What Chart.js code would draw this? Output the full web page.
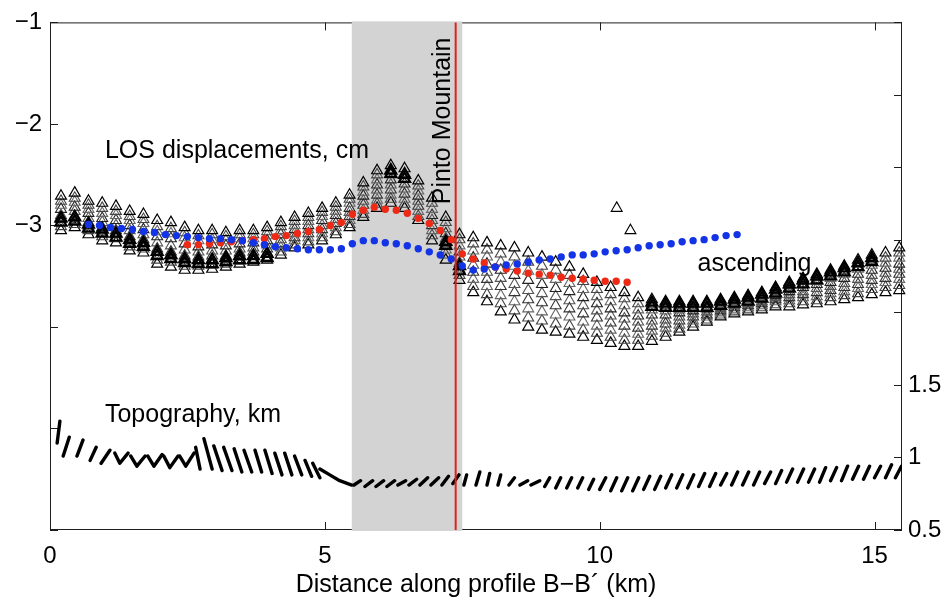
<!DOCTYPE html>
<html><head><meta charset="utf-8">
<script src="https://cdn.jsdelivr.net/npm/chart.js@4.4.1/dist/chart.umd.min.js"></script>
<style>html,body{margin:0;padding:0;background:#fff}canvas{display:block}</style>
</head><body>
<canvas id="c" width="950" height="605"></canvas>
<script>
const FONT = '"Liberation Sans", Arial, Helvetica, sans-serif';

// ---- ascending LOS profile samples (km, cm) ----
const distAsc = [0.2,0.45,0.7,0.95,1.2,1.45,1.7,1.95,2.2,2.45,2.7,2.95,3.2,3.45,3.7,3.95,4.2,4.45,4.7,4.95,5.2,5.45,5.7,5.95,6.2,6.45,6.7,6.95,7.2,7.45,7.7,7.95,8.2,8.45,8.7,8.95,9.2,9.45,9.7,9.95,10.2,10.45,10.7,10.95,11.2,11.45,11.7,11.95,12.2,12.45,12.7,12.95,13.2,13.45,13.7,13.95,14.2,14.45,14.7,14.95,15.2,15.45];
const ascTop = [-2.71,-2.68,-2.76,-2.78,-2.81,-2.86,-2.89,-2.95,-2.97,-3.02,
  -3.05,-3.05,-3.07,-3.05,-3.05,-3.02,-2.97,-2.92,-2.88,-2.83,
  -2.78,-2.70,-2.58,-2.46,-2.41,-2.44,-2.56,-2.73,-2.92,-3.09,
  -3.12,-3.17,-3.20,-3.22,-3.27,-3.31,-3.36,-3.41,-3.48,-3.56,
  -3.61,-3.66,-3.71,-3.73,-3.75,-3.75,-3.75,-3.75,-3.73,-3.71,
  -3.69,-3.66,-3.61,-3.56,-3.52,-3.48,-3.44,-3.40,-3.34,-3.29,
  -3.27,-3.22];
const ascQ1 = [-2.76,-2.73,-2.80,-2.83,-2.86,-2.91,-2.94,-3.01,-3.03,-3.07,
  -3.10,-3.09,-3.11,-3.09,-3.09,-3.06,-3.01,-2.96,-2.92,-2.87,
  -2.82,-2.74,-2.62,-2.50,-2.45,-2.49,-2.61,-2.78,-2.97,-3.14,
  -3.18,-3.24,-3.28,-3.31,-3.36,-3.40,-3.44,-3.49,-3.55,-3.63,
  -3.68,-3.72,-3.77,-3.78,-3.79,-3.79,-3.78,-3.77,-3.75,-3.73,
  -3.71,-3.68,-3.63,-3.59,-3.55,-3.51,-3.48,-3.44,-3.38,-3.34,
  -3.32,-3.27];
const ascUpper = [-2.80,-2.77,-2.84,-2.88,-2.90,-2.95,-2.98,-3.06,-3.08,-3.12,
  -3.15,-3.14,-3.15,-3.13,-3.13,-3.10,-3.05,-3.00,-2.96,-2.91,
  -2.86,-2.78,-2.67,-2.55,-2.50,-2.54,-2.66,-2.84,-3.03,-3.20,
  -3.25,-3.31,-3.36,-3.40,-3.45,-3.49,-3.53,-3.57,-3.63,-3.70,
  -3.75,-3.79,-3.83,-3.83,-3.84,-3.83,-3.81,-3.80,-3.77,-3.75,
  -3.73,-3.70,-3.66,-3.62,-3.58,-3.55,-3.52,-3.48,-3.43,-3.39,
  -3.37,-3.32];
const ascQ2 = [-2.84,-2.82,-2.88,-2.93,-2.95,-3.00,-3.04,-3.11,-3.13,-3.18,
  -3.21,-3.19,-3.20,-3.18,-3.17,-3.15,-3.09,-3.04,-3.00,-2.95,
  -2.90,-2.83,-2.71,-2.60,-2.55,-2.59,-2.71,-2.90,-3.08,-3.26,
  -3.32,-3.38,-3.44,-3.49,-3.54,-3.58,-3.62,-3.65,-3.71,-3.77,
  -3.82,-3.86,-3.89,-3.88,-3.88,-3.86,-3.84,-3.82,-3.80,-3.77,
  -3.75,-3.72,-3.69,-3.65,-3.61,-3.58,-3.56,-3.52,-3.48,-3.44,
  -3.42,-3.38];
const ascMid = [-2.90,-2.86,-2.93,-2.97,-3.00,-3.05,-3.09,-3.17,-3.20,-3.24,
  -3.26,-3.25,-3.25,-3.23,-3.22,-3.19,-3.14,-3.08,-3.04,-3.00,
  -2.94,-2.87,-2.76,-2.65,-2.60,-2.64,-2.76,-2.95,-3.13,-3.31,
  -3.39,-3.46,-3.52,-3.58,-3.64,-3.67,-3.70,-3.74,-3.79,-3.84,
  -3.89,-3.92,-3.95,-3.94,-3.93,-3.90,-3.87,-3.85,-3.82,-3.79,
  -3.77,-3.75,-3.71,-3.68,-3.65,-3.62,-3.60,-3.57,-3.53,-3.49,
  -3.47,-3.43];
const ascQ3 = [-2.94,-2.91,-2.97,-3.02,-3.05,-3.11,-3.14,-3.23,-3.26,-3.30,
  -3.31,-3.30,-3.30,-3.27,-3.26,-3.23,-3.18,-3.12,-3.08,-3.04,
  -2.98,-2.91,-2.80,-2.70,-2.65,-2.69,-2.81,-3.00,-3.18,-3.37,
  -3.46,-3.53,-3.60,-3.66,-3.73,-3.76,-3.79,-3.82,-3.87,-3.91,
  -3.96,-3.99,-4.01,-3.99,-3.97,-3.94,-3.90,-3.88,-3.84,-3.81,
  -3.79,-3.77,-3.73,-3.71,-3.68,-3.66,-3.64,-3.61,-3.58,-3.54,
  -3.52,-3.48];
const ascLower = [-2.97,-2.95,-3.01,-3.06,-3.09,-3.16,-3.19,-3.29,-3.31,-3.35,
  -3.36,-3.35,-3.34,-3.31,-3.30,-3.27,-3.22,-3.15,-3.12,-3.08,
  -3.02,-2.95,-2.85,-2.75,-2.70,-2.74,-2.86,-3.05,-3.24,-3.43,
  -3.53,-3.60,-3.69,-3.75,-3.82,-3.85,-3.88,-3.90,-3.95,-3.99,
  -4.03,-4.06,-4.07,-4.04,-4.01,-3.98,-3.94,-3.90,-3.86,-3.83,
  -3.81,-3.79,-3.75,-3.74,-3.71,-3.70,-3.67,-3.65,-3.62,-3.58,
  -3.56,-3.53];
const ascQ4 = [-3.01,-2.99,-3.05,-3.11,-3.13,-3.21,-3.23,-3.34,-3.36,-3.40,
  -3.40,-3.39,-3.38,-3.35,-3.33,-3.31,-3.26,-3.19,-3.16,-3.12,
  -3.06,-2.99,-2.89,-2.79,-2.74,-2.79,-2.91,-3.10,-3.29,-3.49,
  -3.60,-3.68,-3.77,-3.84,-3.91,-3.94,-3.97,-3.99,-4.03,-4.06,
  -4.10,-4.13,-4.13,-4.09,-4.06,-4.02,-3.97,-3.93,-3.88,-3.85,
  -3.83,-3.81,-3.78,-3.77,-3.75,-3.74,-3.71,-3.69,-3.67,-3.63,
  -3.61,-3.59];
const ascBottom = [-3.05,-3.02,-3.09,-3.15,-3.17,-3.25,-3.27,-3.38,-3.41,-3.44,
  -3.44,-3.43,-3.41,-3.38,-3.36,-3.34,-3.29,-3.22,-3.19,-3.15,
  -3.09,-3.02,-2.92,-2.83,-2.78,-2.83,-2.95,-3.15,-3.34,-3.54,
  -3.66,-3.75,-3.85,-3.93,-4.00,-4.03,-4.05,-4.07,-4.10,-4.13,
  -4.16,-4.19,-4.19,-4.14,-4.10,-4.05,-4.00,-3.95,-3.90,-3.87,
  -3.85,-3.83,-3.80,-3.80,-3.78,-3.77,-3.75,-3.73,-3.71,-3.68,
  -3.66,-3.64];
// darkest (most overlapping) part of the triangle cloud
const ascCore = [-2.93,-2.92,-2.99,-3.04,-3.08,-3.14,-3.17,-3.26,-3.29,-3.33,
  -3.34,-3.34,-3.32,-3.30,-3.30,-3.28,null,null,null,null,
  null,null,null,null,-2.46,-2.50,null,null,-3.16,-3.40,
  null,null,null,null,null,null,null,null,null,null,
  null,null,null,-3.76,-3.77,-3.77,-3.77,-3.77,-3.75,-3.73,
  -3.71,-3.68,-3.63,-3.58,-3.54,-3.50,-3.46,-3.42,-3.37,-3.32,
  null,null];
const ascCore2 = [-2.97,-2.96,-3.03,-3.08,-3.12,-3.18,-3.21,-3.30,-3.33,-3.37,
  -3.38,-3.38,-3.36,-3.34,-3.34,-3.32,null,null,null,null,
  null,null,null,null,-2.49,-2.54,null,null,-3.20,-3.45,
  null,null,null,null,null,null,null,null,null,null,
  null,null,null,-3.80,-3.81,-3.81,-3.81,-3.81,-3.79,-3.77,
  -3.75,-3.72,-3.67,-3.62,-3.58,-3.54,-3.50,-3.46,-3.41,-3.36,
  null,null];
const outKm = [10.31, 10.56];
const outVal = [-2.83, -3.05];

// ---- model profiles (blue / red dots) ----
const blueKm = [0.7,0.9,1.1,1.3,1.5,1.7,1.9,2.1,2.3,2.5,2.7,2.9,3.1,3.3,3.5,3.7,3.9,4.1,4.3,4.5,4.7,4.9,5.1,5.3,5.5,5.7,5.9,6.1,6.3,6.5,6.7,6.9,7.1,7.3,7.5,7.7,7.9,8.1,8.3,8.5,8.7,8.9,9.1,9.3,9.5,9.7,9.9,10.1,10.3,10.5,10.7,10.9,11.1,11.3,11.5,11.7,11.9,12.1,12.3,12.5];
const blueVal = [-2.99,-3.00,-3.02,-3.03,-3.04,-3.06,-3.07,-3.09,-3.10,-3.11,
  -3.12,-3.13,-3.13,-3.14,-3.15,-3.17,-3.19,-3.21,-3.22,-3.23,
  -3.24,-3.24,-3.24,-3.23,-3.18,-3.15,-3.15,-3.17,-3.18,-3.20,
  -3.23,-3.26,-3.29,-3.33,-3.40,-3.44,-3.43,-3.41,-3.39,-3.38,
  -3.36,-3.34,-3.33,-3.31,-3.29,-3.29,-3.28,-3.26,-3.25,-3.24,
  -3.22,-3.20,-3.19,-3.18,-3.16,-3.15,-3.14,-3.12,-3.10,-3.09];
const redKm = [2.5,2.7,2.9,3.1,3.3,3.5,3.7,3.9,4.1,4.3,4.5,4.7,4.9,5.1,5.3,5.5,5.7,5.9,6.1,6.3,6.5,6.7,6.9,7.1,7.3,7.5,7.7,7.9,8.1,8.3,8.5,8.7,8.9,9.1,9.3,9.5,9.7,9.9,10.1,10.3,10.5];
const redVal = [-3.19,-3.19,-3.18,-3.17,-3.16,-3.15,-3.14,-3.13,-3.11,-3.10,
  -3.08,-3.06,-3.04,-3.00,-2.97,-2.89,-2.85,-2.82,-2.84,-2.85,
  -2.88,-2.93,-2.98,-3.05,-3.14,-3.28,-3.33,-3.37,-3.41,-3.43,
  -3.45,-3.47,-3.48,-3.49,-3.51,-3.52,-3.53,-3.54,-3.55,-3.55,-3.56];

// ---- topography (km along profile, elevation km); null separates short dashes ----
const topoKm = [0.13,0.18,null,0.24,0.35,null,0.49,0.60,null,0.73,0.84,null,0.93,1.09,null,
  1.18,1.27,1.42,null,1.47,1.58,1.73,null,1.78,1.89,2.04,null,2.07,2.18,2.33,null,2.36,2.47,2.62,null,
  2.65,2.73,null,2.80,2.95,null,2.98,3.13,null,3.16,3.31,null,3.35,3.49,null,3.53,3.67,null,3.73,3.85,null,
  3.91,4.04,null,4.09,4.22,null,4.27,4.40,null,4.45,4.58,null,4.64,4.76,null,4.78,4.91,null,
  4.91,5.09,5.27,5.49,null,
  5.53,5.65,null,5.73,5.87,null,5.93,6.07,null,6.13,6.27,null,6.33,6.47,null,6.53,6.67,null,6.73,6.87,null,6.93,7.07,null,7.13,7.25,null,7.33,7.44,null,
  7.53,7.58,null,7.75,7.82,null,7.95,8.00,null,8.15,8.20,null,8.35,8.45,null,8.55,8.69,null,8.75,8.91,null,
  9.00,9.09,null,9.20,9.29,null,9.40,9.49,null,9.60,9.69,null,9.80,9.89,null,10.00,10.11,null,10.20,10.31,null,10.40,10.51,null,
  10.60,10.71,null,10.80,10.91,null,11.00,11.11,null,11.20,11.31,null,11.40,11.51,null,11.60,11.71,null,11.80,11.91,null,
  12.00,12.11,null,12.20,12.31,null,12.40,12.51,null,12.60,12.71,null,12.80,12.91,null,13.00,13.11,null,13.20,13.31,null,
  13.40,13.51,null,13.60,13.71,null,13.80,13.91,null,14.00,14.11,null,14.20,14.31,null,14.40,14.51,null,14.60,14.71,null,
  14.80,14.91,null,15.00,15.11,null,15.20,15.31,null,15.38,15.49];
const topoElev = [1.10,1.25,null,1.01,1.14,null,1.01,1.12,null,0.98,1.07,null,0.96,1.05,null,
  1.03,0.96,1.03,null,1.01,0.94,1.01,null,1.01,0.94,1.02,null,1.01,0.93,1.01,null,1.01,0.94,1.03,null,
  1.07,0.92,null,1.13,0.92,null,1.08,0.91,null,1.07,0.91,null,1.06,0.90,null,1.05,0.90,null,1.05,0.90,null,
  1.05,0.89,null,1.03,0.88,null,1.03,0.88,null,1.01,0.88,null,0.98,0.87,null,0.96,0.86,null,
  0.92,0.88,0.84,0.81,null,
  0.81,0.84,null,0.80,0.84,null,0.80,0.84,null,0.80,0.84,null,0.81,0.84,null,0.81,0.85,null,0.81,0.86,null,0.81,0.86,null,0.81,0.87,null,0.82,0.88,null,
  0.81,0.88,null,0.81,0.90,null,0.81,0.89,null,0.81,0.88,null,0.81,0.86,null,0.81,0.84,null,0.81,0.84,null,
  0.80,0.86,null,0.79,0.86,null,0.79,0.86,null,0.79,0.86,null,0.78,0.85,null,0.78,0.86,null,0.77,0.86,null,0.77,0.86,null,
  0.77,0.86,null,0.78,0.87,null,0.78,0.87,null,0.79,0.88,null,0.79,0.88,null,0.79,0.88,null,0.80,0.89,null,
  0.80,0.89,null,0.81,0.89,null,0.81,0.90,null,0.81,0.90,null,0.81,0.90,null,0.82,0.90,null,0.82,0.91,null,
  0.83,0.92,null,0.83,0.92,null,0.83,0.92,null,0.83,0.93,null,0.84,0.93,null,0.84,0.94,null,0.85,0.94,null,
  0.85,0.94,null,0.86,0.94,null,0.86,0.95,null,0.86,0.94];

// ---- fault zone ----
const bandKm = [5.49, 7.5];
const faultKm = 7.38;

const xTicks = [0, 5, 10, 15];
const losTickLabels = [-1, -2, -3];
const topoTickLabels = [0.5, 1, 1.5];

function pts(xs, ys) { return xs.map((x, i) => ({ x: x, y: ys[i] })); }

function triSet(vals, color, width) {
  return { data: pts(distAsc, vals), yAxisID: 'yL', pointStyle: 'triangle', pointRadius: 6.3,
    borderColor: color, backgroundColor: 'rgba(0,0,0,0)', borderWidth: width, showLine: false, clip: false };
}

const framePlugin = {
  id: 'frame',
  beforeDatasetsDraw(chart) {
    const { ctx, chartArea: a, scales } = chart;
    ctx.save();
    ctx.strokeStyle = '#1e1e1e';
    ctx.lineWidth = 1;
    ctx.strokeRect(a.left + 0.5, a.top + 0.5, a.right - a.left - 1, a.bottom - a.top - 1);
    const T = 8;
    ctx.beginPath();
    scales.x.ticks.forEach(t => {
      const p = Math.round(scales.x.getPixelForValue(t.value)) + 0.5;
      ctx.moveTo(p, a.bottom); ctx.lineTo(p, a.bottom - T);
      ctx.moveTo(p, a.top); ctx.lineTo(p, a.top + T);
    });
    scales.yL.ticks.forEach(t => {
      const p = Math.round(scales.yL.getPixelForValue(t.value)) + 0.5;
      ctx.moveTo(a.left, p); ctx.lineTo(a.left + T, p);
    });
    scales.yR.ticks.forEach(t => {
      const p = Math.round(scales.yR.getPixelForValue(t.value)) + 0.5;
      ctx.moveTo(a.right, p); ctx.lineTo(a.right - T, p);
    });
    ctx.stroke();
    const x1 = scales.x.getPixelForValue(bandKm[0]);
    const x2 = scales.x.getPixelForValue(bandKm[1]);
    ctx.fillStyle = '#d3d3d3';
    ctx.fillRect(x1, a.top - 1, x2 - x1, a.bottom - a.top + 2);
    ctx.restore();
  },
  afterDatasetsDraw(chart) {
    const { ctx, chartArea: a, scales } = chart;
    ctx.save();
    const fx = scales.x.getPixelForValue(faultKm);
    ctx.strokeStyle = '#e0201c';
    ctx.lineWidth = 2;
    ctx.beginPath(); ctx.moveTo(fx, a.top); ctx.lineTo(fx, a.bottom); ctx.stroke();
    ctx.fillStyle = '#000';
    ctx.font = '25px ' + FONT;
    ctx.textAlign = 'left';
    ctx.textBaseline = 'middle';
    const notes = [
      { text: 'LOS displacements, cm', x: 1.0, y: -2.27, axis: 'yL' },
      { text: 'Topography, km', x: 1.0, y: 1.29, axis: 'yR' },
      { text: 'ascending', x: 11.78, y: -3.38, axis: 'yL' }
    ];
    notes.forEach(n => ctx.fillText(n.text, scales.x.getPixelForValue(n.x), scales[n.axis].getPixelForValue(n.y)));
    ctx.translate(scales.x.getPixelForValue(7.27), scales.yL.getPixelForValue(-1.97));
    ctx.rotate(-Math.PI / 2);
    ctx.textAlign = 'center';
    ctx.textBaseline = 'alphabetic';
    ctx.fillText('Pinto Mountain', 0, 0);
    ctx.restore();
  }
};

const tickFont = { family: FONT, size: 24 };

new Chart(document.getElementById('c'), {
  type: 'scatter',
  data: {
    datasets: [
      { data: pts(blueKm, blueVal), yAxisID: 'yL', pointRadius: 3.7, pointStyle: 'circle', backgroundColor: '#1233e6', borderWidth: 0, showLine: false },
      { data: pts(redKm, redVal), yAxisID: 'yL', pointRadius: 3.7, pointStyle: 'circle', backgroundColor: '#ee2a16', borderWidth: 0, showLine: false },
      triSet(ascCore, '#000', 2.2),
      triSet(ascCore2, '#000', 2.2),
      triSet(ascTop, '#000', 1.2),
      triSet(ascQ1, '#444', 1.1),
      triSet(ascUpper, '#666', 1.1),
      triSet(ascQ2, '#222', 1.1),
      triSet(ascMid, '#555', 1.1),
      triSet(ascQ3, '#333', 1.1),
      triSet(ascLower, '#666', 1.1),
      triSet(ascQ4, '#444', 1.1),
      triSet(ascBottom, '#000', 1.2),
      { data: pts(outKm, outVal), yAxisID: 'yL', pointStyle: 'triangle', pointRadius: 6.3, borderColor: '#000', backgroundColor: 'rgba(0,0,0,0)', borderWidth: 1.1, showLine: false },
      { data: pts(topoKm, topoElev), yAxisID: 'yR', showLine: true, spanGaps: false, pointRadius: 0, borderColor: '#000', borderWidth: 3.4, borderCapStyle: 'round', borderJoinStyle: 'round' }
    ]
  },
  options: {
    responsive: false, animation: false, events: [],
    layout: { padding: { top: 18, left: 0, right: 0, bottom: 0 } },
    plugins: { legend: { display: false }, tooltip: { enabled: false } },
    scales: {
      x: {
        type: 'linear', position: 'bottom', min: 0, max: 15.5,
        grid: { display: false, drawTicks: false }, border: { display: false },
        afterBuildTicks(s) { s.ticks = xTicks.map(v => ({ value: v })); },
        ticks: { padding: 12, color: '#000', font: tickFont, maxRotation: 0, callback: v => String(v) },
        title: { display: true, text: 'Distance along profile B\u2212B\u00b4 (km)', color: '#000', font: { family: FONT, size: 25 }, padding: { top: 0, bottom: 5 } },
        afterFit(s) { s.height = 75; }
      },
      yL: {
        type: 'linear', position: 'left', min: -6, max: -1,
        grid: { display: false, drawTicks: false }, border: { display: false },
        ticks: { stepSize: 1, padding: 8, color: '#000', font: tickFont,
          callback: v => losTickLabels.includes(v) ? '\u2212' + Math.abs(v) : '' },
        afterFit(s) { s.width = 50; }
      },
      yR: {
        type: 'linear', position: 'right', min: 0.5, max: 4,
        grid: { display: false, drawTicks: false }, border: { display: false },
        ticks: { stepSize: 0.5, padding: 6, color: '#000', font: tickFont,
          callback: v => topoTickLabels.includes(v) ? String(v) : '' },
        afterFit(s) { s.width = 48; }
      }
    }
  },
  plugins: [framePlugin]
});
</script>
</body></html>
